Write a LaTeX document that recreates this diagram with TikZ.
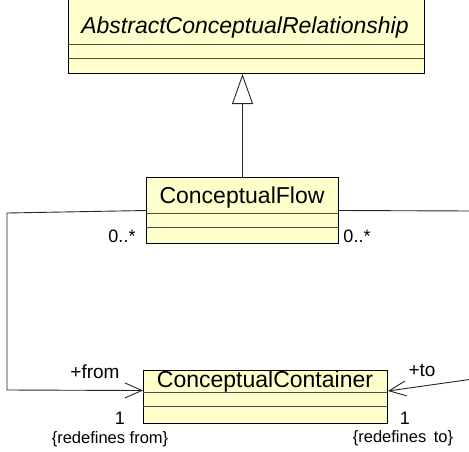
\documentclass[tikz,border=0pt]{standalone}
\usepackage{fontspec}
\setmainfont{Liberation Sans}
\usetikzlibrary{arrows.meta,calc}
\definecolor{umlfill}{RGB}{255,255,204}
\begin{document}
\begin{tikzpicture}[x=1pt,y=-1pt,
  classbox/.style={draw=black, fill=umlfill, line width=1pt, inner sep=0pt, anchor=north west},
  compline/.style={draw=black!70, line width=0.8pt},
  conn/.style={draw=black!85, line width=0.9pt},
  gen/.style={-{Triangle[open, length=30pt, width=21pt, fill=white]}},
  nav/.style={-{Straight Barb[length=17pt, width=15pt, line width=0.9pt]}},
  clsname/.style={anchor=base, inner sep=0pt, font=\fontsize{23}{23}\selectfont},
  lbl/.style={anchor=base, inner sep=0pt, font=\fontsize{18}{18}\selectfont},
  note/.style={anchor=base, inner sep=0pt, font=\fontsize{16.5}{16.5}\selectfont}]
\useasboundingbox (0,0) rectangle (469,451);
\clip (0,0) rectangle (469,451);
\fill[white] (0,0) rectangle (469,451);

% AbstractConceptualRelationship
\node[classbox, minimum width=356pt, minimum height=75pt] (abs) at (68,-2) {};
\draw[compline] (68,44) -- (424,44);
\draw[compline] (68,58) -- (424,58);
\node[clsname, font=\itshape\fontsize{23}{23}\selectfont] (absname) at (245,33) {AbstractConceptualRelationship};

% ConceptualFlow
\node[classbox, minimum width=192pt, minimum height=66pt] (flow) at (146,177) {};
\draw[compline] (146,213) -- (338,213);
\draw[compline] (146,227) -- (338,227);
\node[clsname] (flowname) at (242,203) {ConceptualFlow};

% ConceptualContainer
\node[classbox, minimum width=244pt, minimum height=53pt] (cont) at (143,370) {};
\draw[compline] (143,392) -- (387,392);
\draw[compline] (143,406) -- (387,406);
\node[clsname] (contname) at (265,387) {ConceptualContainer};

% generalization
\draw[conn, gen] (flow.north) -- (flow.north |- abs.south);

% associations
\coordinate (lt) at (7,213);
\coordinate (lb) at (7,390);
\coordinate (rt) at (473,211);
\coordinate (rb) at (473,379);
\draw[conn, nav] (flow.west) -- (lt) -- (lb) -- ($(cont.north west)+(0,20.5)$);
\draw[conn, nav] (flow.east) -- (rt) -- (rb) -- ($(cont.north east)+(0,21)$);

% labels
\node[lbl] (m1) at (122,242) {0..*};
\node[lbl] (m2) at (357,242) {0..*};
\node[lbl, font=\fontsize{19}{19}\selectfont] (rf) at (95,378) {+from};
\node[lbl, font=\fontsize{19}{19}\selectfont] (rto) at (422,376) {+to};
\node[lbl] (one1) at (120,424) {1};
\node[lbl] (one2) at (405,424) {1};
\node[note] (n1) at (110,443) {\{redefines from\}};
\node[note] (n2) at (403,442) {\{redefines\hspace{3pt} to\}};
\end{tikzpicture}
\end{document}
